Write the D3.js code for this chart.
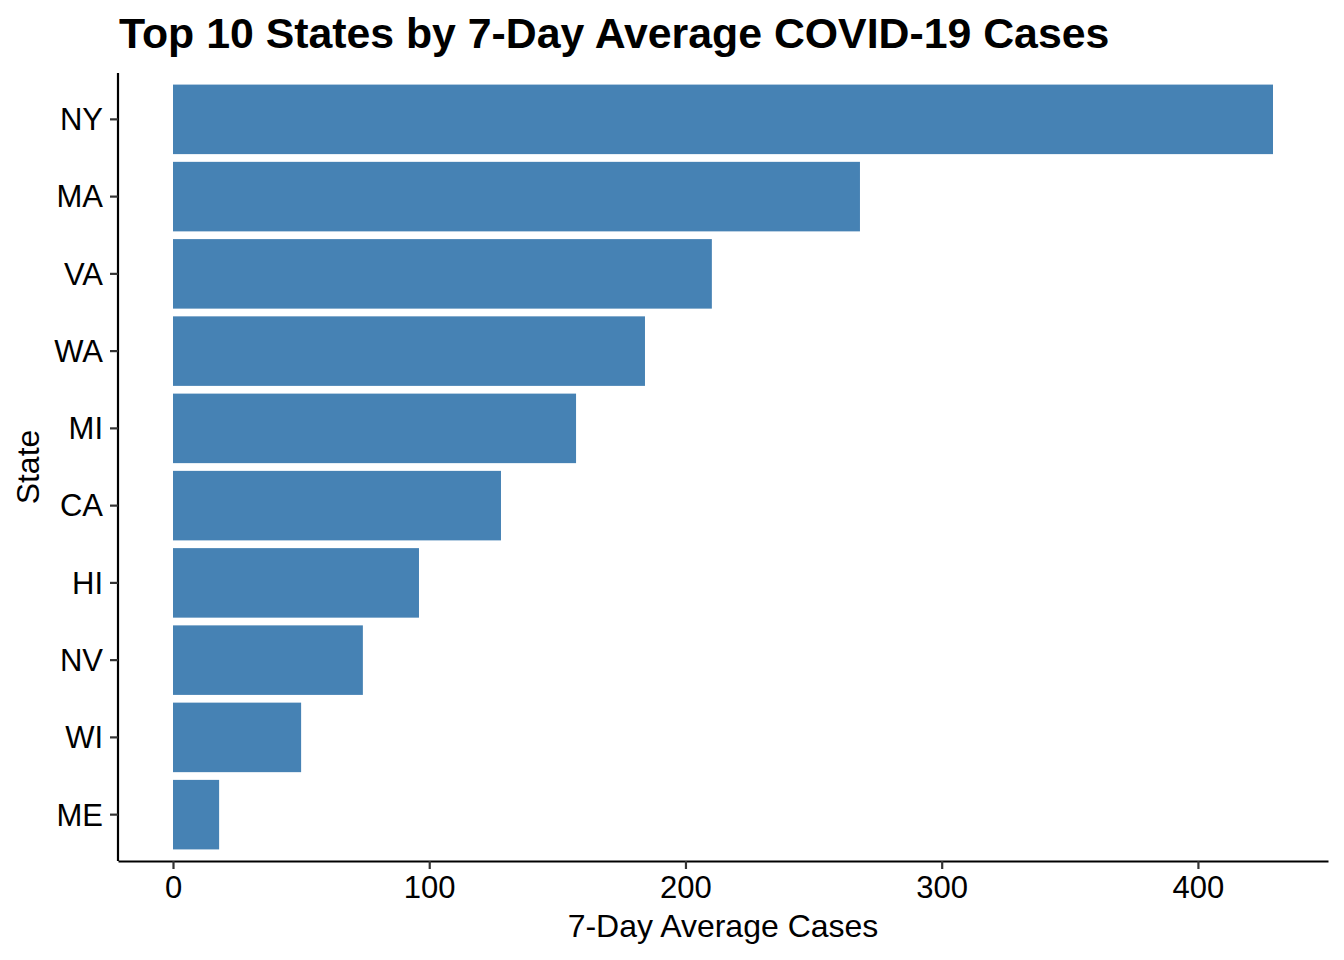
<!DOCTYPE html>
<html>
<head>
<meta charset="utf-8">
<script src="https://cdn.jsdelivr.net/npm/d3@7"></script>
<style>
  html, body { margin: 0; padding: 0; background: #fff; }
  svg { display: block; font-family: "Liberation Sans", Arial, sans-serif; }
</style>
</head>
<body>
<div id="chart"></div>
<script>
// Top 10 states, ordered top to bottom
const states = ["NY", "MA", "VA", "WA", "MI", "CA", "HI", "NV", "WI", "ME"];
const avgCases = [429.3, 268.1, 210.3, 184.2, 157.3, 128.0, 96.0, 74.1, 50.0, 18.0];
const xTicks = [0, 100, 200, 300, 400];

const W = 1344, H = 960;
const panel = { left: 118, right: 1328, top: 73, bottom: 861 };

const svg = d3.select("#chart").append("svg")
  .attr("width", W).attr("height", H)
  .attr("viewBox", `0 0 ${W} ${H}`);

// ggplot-style 5% expansion on the continuous axis
const maxV = d3.max(avgCases);
const pad = maxV * 0.05;
const x = d3.scaleLinear().domain([-pad, maxV + pad]).range([panel.left, panel.right]);

// discrete axis: 0.6 units added on each side, bars 0.9 wide
const n = states.length;
const step = (panel.bottom - panel.top) / (n - 1 + 1.2);
const y = d3.scaleBand().domain(states)
  .range([panel.top + 0.1 * step, panel.bottom - 0.1 * step])
  .paddingInner(0.1).paddingOuter(0.05);

// Bars
svg.append("g").selectAll("rect").data(states).enter().append("rect")
  .attr("x", x(0))
  .attr("y", d => y(d))
  .attr("width", (d, i) => x(avgCases[i]) - x(0))
  .attr("height", y.bandwidth())
  .attr("fill", "steelblue");

// X axis
const xAxis = svg.append("g")
  .attr("transform", `translate(0,${panel.bottom})`)
  .call(d3.axisBottom(x).tickValues(xTicks).tickSize(8).tickPadding(6).tickSizeOuter(0));
xAxis.select(".domain").attr("stroke", "#000").attr("stroke-width", 2.2);
xAxis.selectAll(".tick line").attr("stroke", "#333").attr("stroke-width", 2.2);
xAxis.selectAll("text").attr("fill", "#000").style("font-size", "31px")
  .attr("y", 37).attr("dy", 0);

// Y axis
const yAxis = svg.append("g")
  .attr("transform", `translate(${panel.left},0)`)
  .call(d3.axisLeft(y).tickSize(8).tickPadding(6).tickSizeOuter(0));
yAxis.select(".domain").attr("d", `M0,${panel.top}V${panel.bottom}`)
  .attr("stroke", "#000").attr("stroke-width", 2.2);
yAxis.selectAll(".tick line").attr("stroke", "#333").attr("stroke-width", 2.2);
yAxis.selectAll("text").attr("fill", "#000").style("font-size", "31px")
  .attr("x", -15).attr("dy", "0.35em");

// Axis titles
svg.append("text")
  .attr("x", (panel.left + panel.right) / 2).attr("y", 937)
  .attr("text-anchor", "middle").style("font-size", "32px")
  .text("7-Day Average Cases");

svg.append("text")
  .attr("transform", `translate(39,${(panel.top + panel.bottom) / 2}) rotate(-90)`)
  .attr("text-anchor", "middle").style("font-size", "32px")
  .text("State");

// Title
svg.append("text")
  .attr("x", 119).attr("y", 48)
  .style("font-size", "42.8px").style("font-weight", "bold")
  .text("Top 10 States by 7-Day Average COVID-19 Cases");
</script>
</body>
</html>
